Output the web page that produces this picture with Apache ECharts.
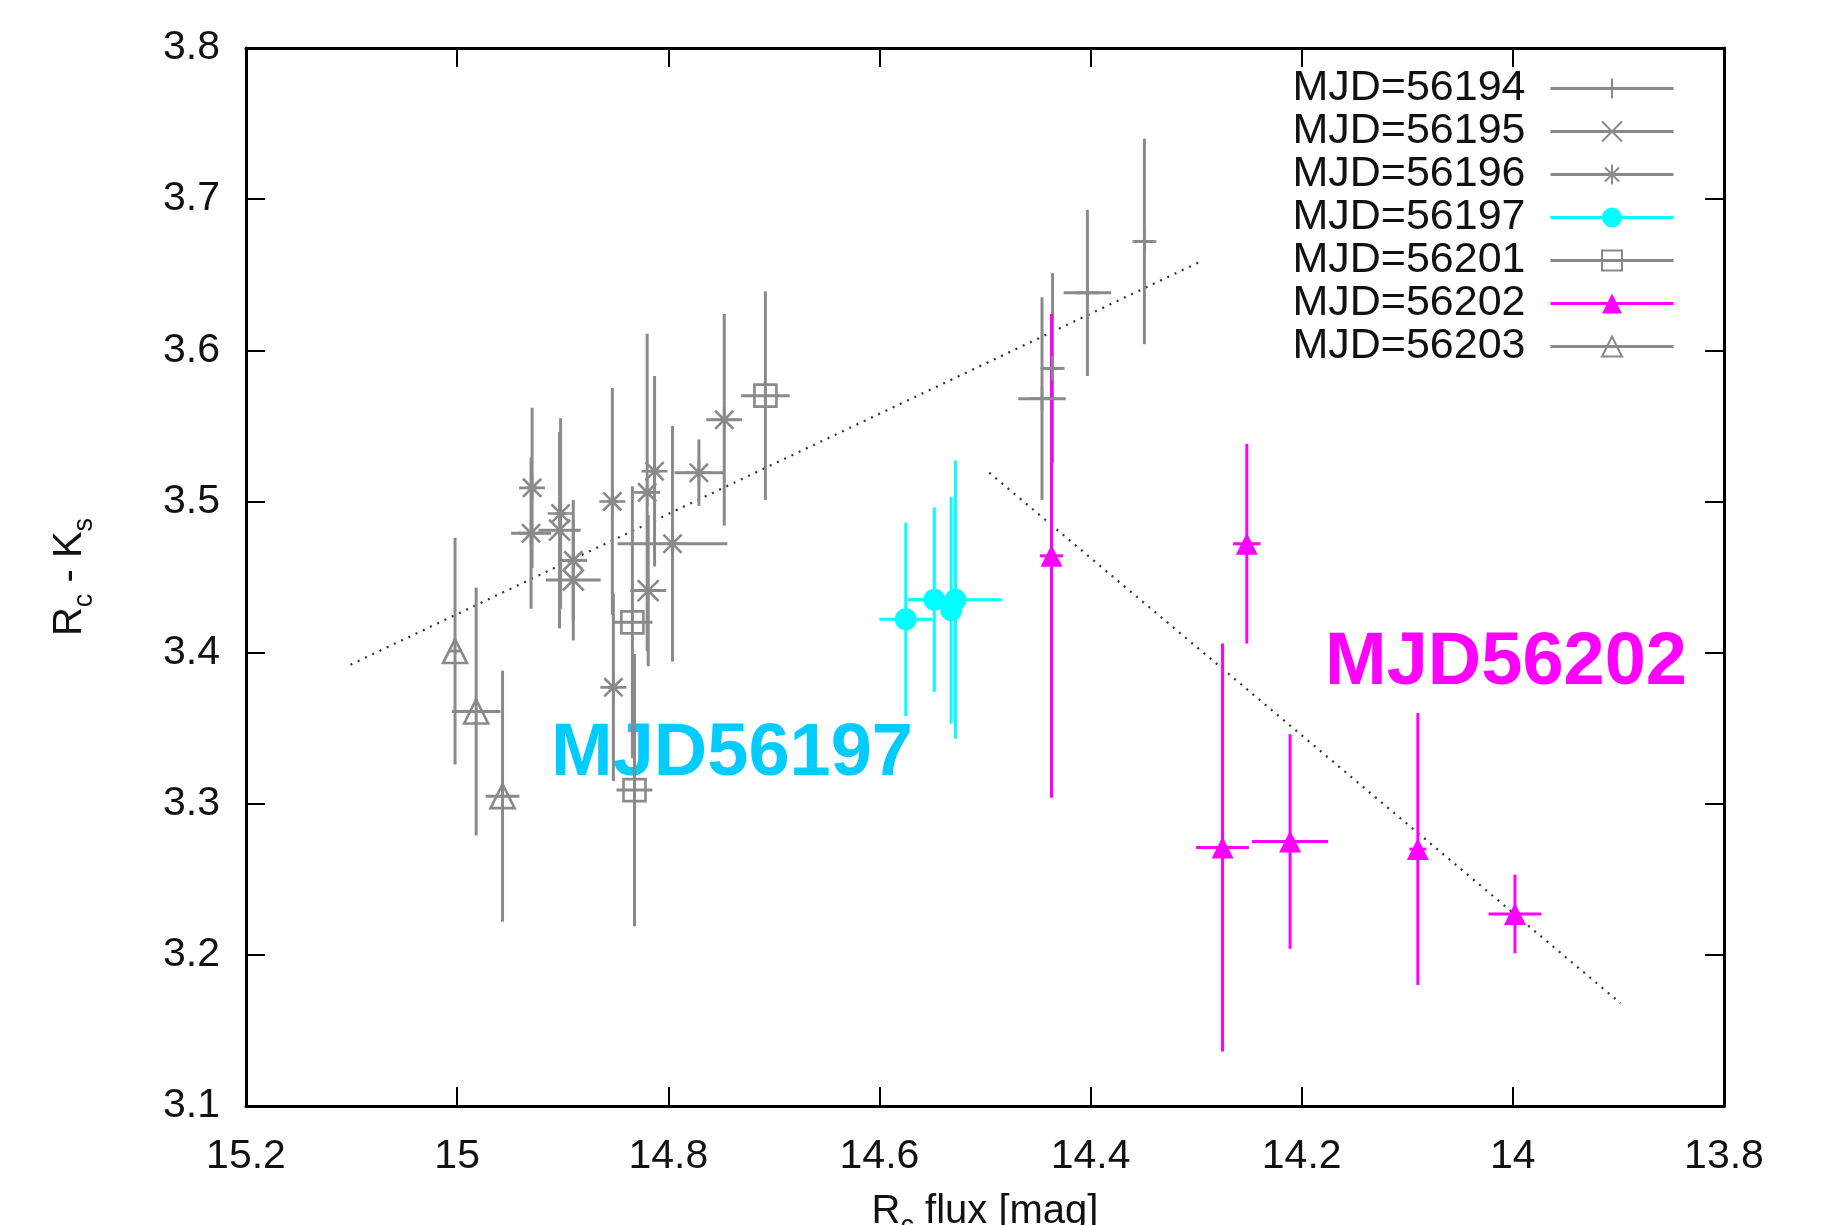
<!DOCTYPE html>
<html><head><meta charset="utf-8">
<script src="https://cdn.jsdelivr.net/npm/echarts@6/dist/echarts.min.js"></script>
<style>html,body{margin:0;padding:0;background:#fff}#c{width:1827px;height:1225px}</style>
</head><body><div id="c"></div>
<script>
// [x (Rc mag), y (Rc-Ks), xerr, yerr]
const mjd56194 = [[14.446,3.568,0.0225,0.067],[14.436,3.588,0.0095,0.063],[14.403,3.638,0.0225,0.055],[14.349,3.672,0.0095,0.068]];
const mjd56195 = [[14.903,3.481,0.020,0.065],[14.890,3.448,0.026,0.040],[14.819,3.441,0.017,0.050]];
const mjd56196 = [[14.929,3.509,0.005,0.053],[14.930,3.479,0.019,0.050],[14.902,3.492,0.005,0.063],[14.890,3.461,0.013,0.040],
  [14.853,3.500,0.005,0.075],[14.852,3.377,0.005,0.062],[14.820,3.506,0.005,0.105],[14.813,3.520,0.005,0.063],
  [14.796,3.472,0.052,0.078],[14.771,3.519,0.023,0.022],[14.747,3.554,0.017,0.070]];
const mjd56197 = [[14.575,3.422,0.025,0.064],[14.548,3.435,0.025,0.061],[14.528,3.435,0.044,0.092],[14.532,3.428,0.008,0.075]];
const mjd56201 = [[14.834,3.420,0.019,0.090],[14.832,3.309,0.017,0.090],[14.708,3.570,0.023,0.069]];
const mjd56202 = [[14.437,3.464,0.011,0.160],[14.252,3.472,0.013,0.066],[14.275,3.271,0.025,0.135],[14.211,3.275,0.036,0.071],[14.090,3.270,0.008,0.090],[13.998,3.227,0.025,0.026]];
const mjd56203 = [[15.002,3.401,0.005,0.075],[14.982,3.361,0.023,0.082],[14.957,3.305,0.016,0.083]];
const fitGrey = [[15.101,3.392],[14.298,3.658]];
const fitMagenta = [[14.496,3.519],[13.898,3.168]];
const legendNames = ['MJD=56194','MJD=56195','MJD=56196','MJD=56197','MJD=56201','MJD=56202','MJD=56203'];

const GREY = '#8a8a8a', CYAN = '#00ffff', MAG = '#ff00ff';
const FONT = 'Liberation Sans, Arial, Helvetica, sans-serif';
const SYM = {
  plus: 'path://M10,0 L10,20 M0,10 L20,10',
  cross: 'path://M0,0 L20,20 M20,0 L0,20',
  star: 'path://M10,0 L10,20 M0,10 L20,10 M3,3 L17,17 M17,3 L3,17'
};

function errRender(color){
  return function(params, api){
    const x = api.value(0), y = api.value(1), ex = api.value(2), ey = api.value(3);
    const a = api.coord([x, y - ey]), b = api.coord([x, y + ey]);
    const c = api.coord([x - ex, y]), d = api.coord([x + ex, y]);
    const style = {stroke: color, lineWidth: 3};
    return {type: 'group', children: [
      {type: 'line', shape: {x1: a[0], y1: a[1], x2: b[0], y2: b[1]}, style: style},
      {type: 'line', shape: {x1: c[0], y1: c[1], x2: d[0], y2: d[1]}, style: style}
    ]};
  };
}

const groups = [
  {name: legendNames[0], data: mjd56194, color: GREY, symbol: SYM.plus, size: 24, fill: 'rgba(0,0,0,0)', stroke: GREY},
  {name: legendNames[1], data: mjd56195, color: GREY, symbol: SYM.cross, size: 21, fill: 'rgba(0,0,0,0)', stroke: GREY},
  {name: legendNames[2], data: mjd56196, color: GREY, symbol: SYM.star, size: 26, fill: 'rgba(0,0,0,0)', stroke: GREY},
  {name: legendNames[3], data: mjd56197, color: CYAN, symbol: 'circle', size: 22, fill: CYAN, stroke: CYAN},
  {name: legendNames[4], data: mjd56201, color: GREY, symbol: 'rect', size: 22, fill: 'rgba(0,0,0,0)', stroke: GREY},
  {name: legendNames[5], data: mjd56202, color: MAG, symbol: 'triangle', size: 22, fill: MAG, stroke: MAG},
  {name: legendNames[6], data: mjd56203, color: GREY, symbol: 'triangle', size: 24, fill: 'rgba(0,0,0,0)', stroke: GREY}
];

const series = [];
series.push({type: 'line', data: fitGrey, symbol: 'none', silent: true, z: 1,
  lineStyle: {color: '#333', width: 2.2, type: [2, 6]}});
series.push({type: 'line', data: fitMagenta, symbol: 'none', silent: true, z: 1,
  lineStyle: {color: '#333', width: 2.2, type: [2, 6]}});
groups.forEach(function(g, i){
  series.push({type: 'custom', name: 'err' + i, data: g.data, encode: {x: 0, y: 1},
    renderItem: errRender(g.color), z: 2 + (g.color === GREY ? 0 : 1), silent: true});
});
groups.forEach(function(g, i){
  series.push({type: 'line', name: g.name, data: g.data.map(function(p){ return [p[0], p[1]]; }),
    symbol: g.symbol, symbolSize: g.size, showSymbol: true, showAllSymbol: true,
    z: 5 + (g.color === GREY ? 0 : 1), silent: true, animation: false,
    itemStyle: {color: g.fill, borderColor: g.stroke, borderWidth: g.fill === g.stroke ? 0 : 2.6, opacity: 1},
    lineStyle: {color: g.color, width: 3, opacity: 0}});
});

const nameRich = {
  n: {fontSize: 40, fontFamily: FONT, color: '#111', lineHeight: 56, verticalAlign: 'middle'},
  sub: {fontSize: 27, fontFamily: FONT, color: '#111', lineHeight: 20, verticalAlign: 'bottom'}
};

const axisBase = {
  type: 'value', min: 13.8, max: 15.2, interval: 0.2, inverse: true,
  axisLine: {show: true, onZero: false, lineStyle: {color: '#000', width: 3}},
  axisTick: {show: true, inside: true, length: 19, lineStyle: {color: '#000', width: 2}},
  splitLine: {show: false}
};

const option = {
  backgroundColor: '#fff',
  animation: false,
  grid: {left: 246, right: 103, top: 48, bottom: 119, containLabel: false, outerBoundsMode: 'none'},
  xAxis: [
    Object.assign({}, axisBase, {position: 'bottom',
      axisLabel: {fontSize: 41, color: '#111', margin: 30, fontFamily: FONT, showMinLabel: true, showMaxLabel: true},
      name: '{n|R}{sub|c}{n| flux [mag]}', nameLocation: 'middle', nameGap: 78,
      nameTextStyle: {fontSize: 40, color: '#111', fontFamily: FONT, rich: nameRich}}),
    Object.assign({}, axisBase, {position: 'top', axisLabel: {show: false}})
  ],
  yAxis: [
    {type: 'value', min: 3.1, max: 3.8, interval: 0.1, position: 'left',
      axisLine: {show: true, onZero: false, lineStyle: {color: '#000', width: 3}},
      axisTick: {show: true, inside: true, length: 19, lineStyle: {color: '#000', width: 2}},
      splitLine: {show: false},
      axisLabel: {fontSize: 41, color: '#111', margin: 26, fontFamily: FONT, showMinLabel: true, showMaxLabel: true},
      name: '{n|R}{sub|c}{n| - K}{sub|s}', nameLocation: 'middle', nameGap: 148, nameRotate: 90,
      nameTextStyle: {fontSize: 40, color: '#111', fontFamily: FONT, rich: nameRich}},
    {type: 'value', min: 3.1, max: 3.8, interval: 0.1, position: 'right',
      axisLine: {show: true, onZero: false, lineStyle: {color: '#000', width: 3}},
      axisTick: {show: true, inside: true, length: 19, lineStyle: {color: '#000', width: 2}},
      splitLine: {show: false}, axisLabel: {show: false}}
  ],
  legend: {
    data: legendNames, orient: 'vertical', right: 147, top: 62, align: 'right',
    itemWidth: 123, itemHeight: 25, itemGap: 0, selectedMode: false,
    textStyle: {fontSize: 43, color: '#111', fontFamily: FONT, lineHeight: 43, padding: [0, 20, 0, 0]},
    lineStyle: {opacity: 1, width: 3}
  },
  graphic: [
    {type: 'text', left: 551, top: 718, silent: true,
      style: {text: 'MJD56197', fill: '#00ccff', font: 'bold 74px ' + FONT}},
    {type: 'text', left: 1325, top: 627, silent: true,
      style: {text: 'MJD56202', fill: '#ff00ff', font: 'bold 74px ' + FONT}}
  ],
  series: series
};

const chart = echarts.init(document.getElementById('c'), null, {renderer: 'canvas'});
chart.setOption(option);
</script>
</body></html>
